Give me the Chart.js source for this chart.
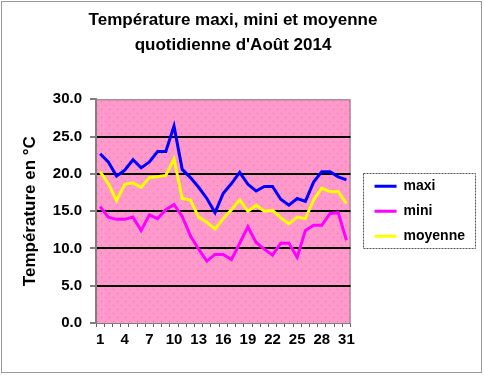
<!DOCTYPE html>
<html>
<head>
<meta charset="utf-8">
<script src="https://cdn.jsdelivr.net/npm/chart.js@4/dist/chart.umd.min.js"></script>
<style>
html,body{margin:0;padding:0;background:#fff;}
#wrap{width:484px;height:375px;position:relative;}
</style>
</head>
<body>
<div id="wrap"><canvas id="c" width="484" height="375"></canvas></div>
<script>
// ---- data ----
const days = ['1','2','3','4','5','6','7','8','9','10','11','12','13','14','15','16','17','18','19','20','21','22','23','24','25','26','27','28','29','30','31'];
const maxi = [22.7,21.6,19.7,20.5,21.9,20.8,21.6,23.0,23.0,26.4,20.6,19.5,18.2,16.7,14.8,17.4,18.7,20.2,18.6,17.7,18.3,18.3,16.6,15.8,16.7,16.3,18.9,20.3,20.3,19.6,19.2];
const mini = [15.6,14.2,13.9,13.9,14.2,12.4,14.5,14.0,15.2,15.9,14.3,11.7,9.9,8.3,9.2,9.2,8.5,10.7,12.9,10.8,9.9,9.1,10.7,10.7,8.8,12.4,13.1,13.1,14.7,14.8,11.1];
const moyenne = [20.3,18.7,16.4,18.6,18.8,18.2,19.5,19.6,19.8,22.0,16.7,16.5,14.2,13.5,12.6,14.0,15.2,16.5,15.0,15.8,15.0,15.1,14.1,13.3,14.2,14.0,16.5,18.1,17.6,17.6,16.0];
const titleLines = ['Température maxi, mini et moyenne', "quotidienne d'Août 2014"];
const yTitle = 'Température en °C';
const seriesNames = ['maxi', 'mini', 'moyenne'];

const FONT = "'Liberation Sans', Arial, sans-serif";

function makePattern(ctx) {
  const t = document.createElement('canvas');
  t.width = 8; t.height = 8;
  const g = t.getContext('2d');
  g.fillStyle = '#FF99CC';
  g.fillRect(0, 0, 8, 8);
  g.fillStyle = '#E86FA8';
  g.fillRect(1, 1, 1, 1);
  g.fillRect(5, 5, 1, 1);
  return ctx.createPattern(t, 'repeat');
}

const decor = {
  id: 'decor',
  beforeLayout(chart) {
    const lg = chart.legend;
    if (lg && !lg._wideOk) {
      const orig = lg.update;
      lg.update = function(mw, mh, margins) { return orig.call(this, Math.max(mw, 130), mh, margins); };
      lg._wideOk = true;
    }
  },
  afterLayout(chart) {
    // centre the title a little left, as in the original
    if (chart.titleBlock) { chart.titleBlock.right -= 9; }
  },
  beforeDraw(chart) {
    const ctx = chart.ctx;
    const a = chart.chartArea;
    ctx.save();
    ctx.fillStyle = '#fff';
    ctx.fillRect(0, 0, chart.width, chart.height);
    ctx.fillStyle = makePattern(ctx);
    ctx.fillRect(a.left, a.top, a.right - a.left, a.bottom - a.top);
    ctx.strokeStyle = '#808080';
    ctx.lineWidth = 1;
    ctx.strokeRect(a.left + 0.5, a.top + 0.5, a.right - a.left - 1, a.bottom - a.top);
    ctx.restore();
  },
  afterDraw(chart) {
    const ctx = chart.ctx;
    ctx.save();
    // outer dotted frame
    ctx.strokeStyle = '#333';
    ctx.lineWidth = 1;
    ctx.setLineDash([1, 1]);
    ctx.strokeRect(1.5, 1.5, 480, 371);
    // legend frame
    const lg = chart.legend;
    const hb = lg.legendHitBoxes;
    if (hb && hb.length) {
      const c1 = hb[0].top + hb[0].height / 2;
      const c3 = hb[hb.length - 1].top + hb[hb.length - 1].height / 2;
      const x0 = Math.round(lg.left) - 0.5;
      const x1 = Math.round(lg.right) + 0.5;
      const y0 = Math.round(c1 - 13) + 0.5;
      const y1 = Math.round(c3 + 12) + 0.5;
      ctx.setLineDash([2, 1]);
      ctx.strokeStyle = '#555';
      ctx.strokeRect(x0, y0, x1 - x0, y1 - y0);
    }
    ctx.restore();
  }
};

const ctx = document.getElementById('c').getContext('2d');
new Chart(ctx, {
  type: 'line',
  data: {
    labels: days,
    datasets: [
      { label: seriesNames[0], data: maxi, borderColor: '#0000FF', backgroundColor: '#0000FF', borderWidth: 3, pointRadius: 0, tension: 0, yAxisID: 'y' },
      { label: seriesNames[1], data: mini, borderColor: '#FF00FF', backgroundColor: '#FF00FF', borderWidth: 3, pointRadius: 0, tension: 0, yAxisID: 'y' },
      { label: seriesNames[2], data: moyenne, borderColor: '#FFFF00', backgroundColor: '#FFFF00', borderWidth: 3, pointRadius: 0, tension: 0, yAxisID: 'y' }
    ]
  },
  options: {
    responsive: false,
    animation: false,
    devicePixelRatio: 1,
    layout: { padding: { left: 0, right: 9, top: 0, bottom: 0 } },
    plugins: {
      title: {
        display: true,
        text: titleLines,
        color: '#000',
        font: { family: FONT, size: 17, weight: 'bold', lineHeight: 1.45 },
        padding: { top: 8, bottom: 42 }
      },
      legend: {
        display: true,
        position: 'right',
        align: 'center',
        fullSize: false,
        labels: {
          usePointStyle: true,
          pointStyle: 'line',
          pointStyleWidth: 22,
          padding: 11,
          color: '#000',
          font: { family: FONT, size: 14, weight: 'bold' }
        }
      },
      tooltip: { enabled: false }
    },
    scales: {
      x: {
        type: 'category',
        offset: true,
        grid: { display: true, offset: true, drawOnChartArea: false, drawTicks: true, tickLength: 4, color: '#808080', tickColor: '#606060' },
        border: { display: true, color: '#808080', width: 1 },
        ticks: {
          autoSkip: false, maxRotation: 0, minRotation: 0, padding: 4, color: '#000',
          font: { family: FONT, size: 15, weight: 'bold' },
          callback: function(v, i) { return i % 3 === 0 ? this.getLabelForValue(v) : ''; }
        },
        afterFit: s => { s.height = 52; }
      },
      y: {
        type: 'linear',
        position: 'left',
        min: 0, max: 30,
        grid: {
          color: c => (c.tick && (c.tick.value === 0 || c.tick.value === 30)) ? 'rgba(0,0,0,0)' : '#000',
          lineWidth: 2,
          tickColor: '#000',
          tickWidth: 1,
          tickLength: 6
        },
        border: { display: true, color: '#808080', width: 2 },
        ticks: {
          stepSize: 5, padding: 8, color: '#000',
          font: { family: FONT, size: 15, weight: 'bold' },
          callback: v => Number(v).toFixed(1)
        },
        title: {
          display: true, text: yTitle, color: '#000',
          font: { family: FONT, size: 17, weight: 'bold' },
          padding: { top: 20, bottom: 0 }
        },
        afterFit: s => { s.width = 96; }
      },
      yR: {
        type: 'linear',
        position: 'right',
        display: true,
        grid: { display: false, drawTicks: false },
        border: { display: false },
        ticks: { display: false },
        afterFit: s => { s.width = 13; }
      }
    }
  },
  plugins: [decor]
});
</script>
</body>
</html>
